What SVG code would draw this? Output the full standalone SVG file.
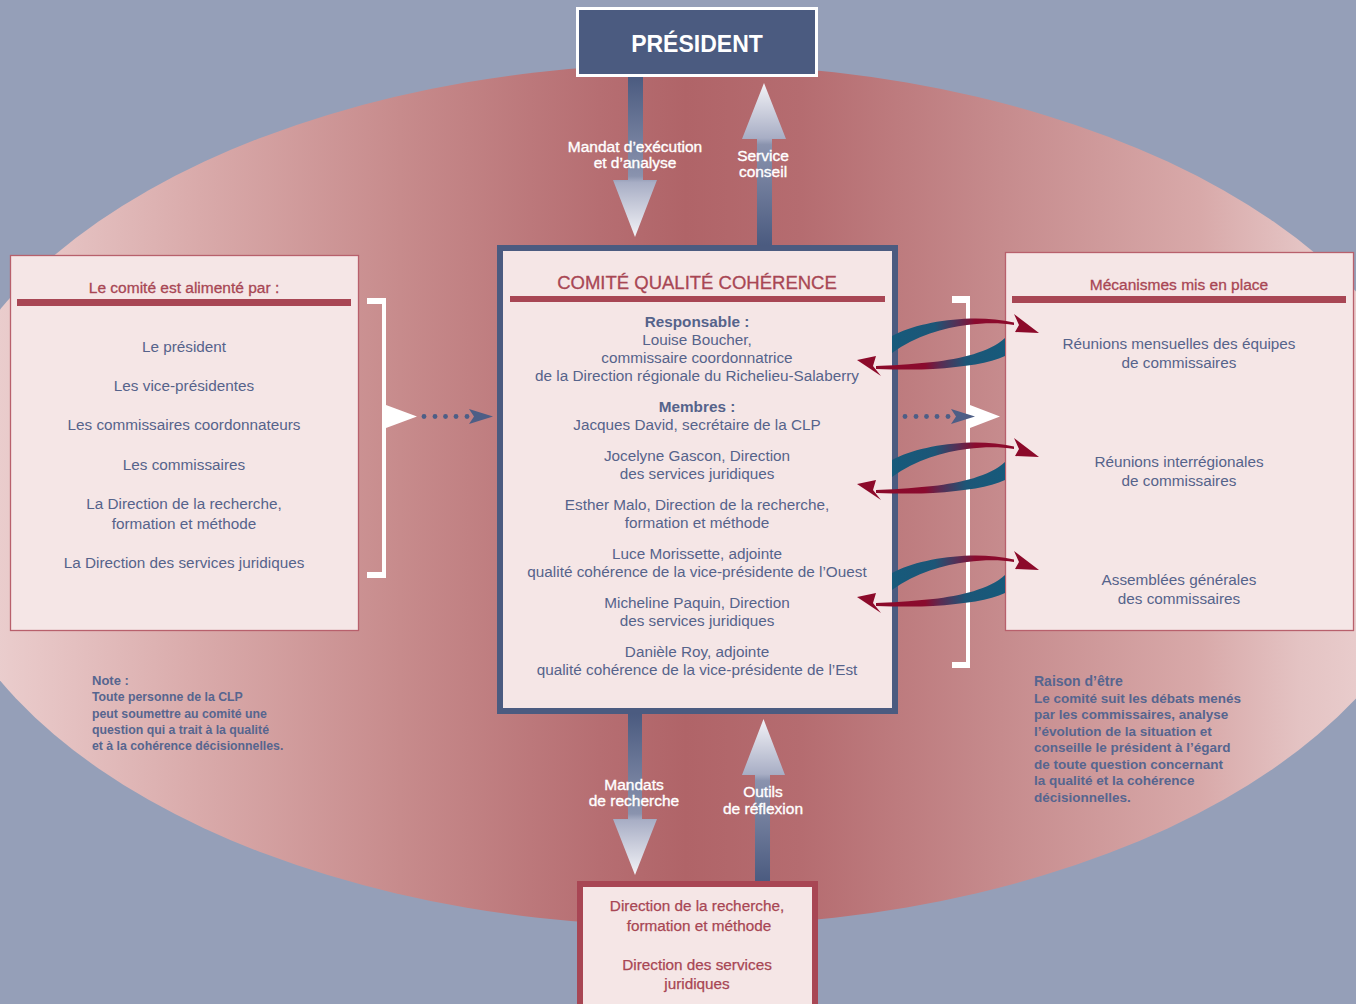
<svg xmlns="http://www.w3.org/2000/svg" width="1356" height="1004" viewBox="0 0 1356 1004">
<defs>
<linearGradient id="gEll" gradientUnits="userSpaceOnUse" x1="-74" y1="0" x2="1446" y2="0">
<stop offset="0" stop-color="#efd9d9"/>
<stop offset="0.075" stop-color="#e7c6c6"/>
<stop offset="0.18" stop-color="#d9aaaa"/>
<stop offset="0.312" stop-color="#c78b8c"/>
<stop offset="0.443" stop-color="#b66e72"/>
<stop offset="0.5" stop-color="#b06468"/>
<stop offset="0.575" stop-color="#b56c70"/>
<stop offset="0.707" stop-color="#c68b8d"/>
<stop offset="0.838" stop-color="#d8a9a9"/>
<stop offset="0.904" stop-color="#e4c3c3"/>
<stop offset="1" stop-color="#efd9d9"/>
</linearGradient>
<linearGradient id="gDown" x1="0" y1="0" x2="0" y2="1">
<stop offset="0" stop-color="#4b5b80"/>
<stop offset="0.62" stop-color="#8a93ae"/>
<stop offset="0.66" stop-color="#a8aec5"/>
<stop offset="1" stop-color="#f3f3f7"/>
</linearGradient>
<linearGradient id="gUp" x1="0" y1="1" x2="0" y2="0">
<stop offset="0" stop-color="#4b5b80"/>
<stop offset="0.62" stop-color="#8a93ae"/>
<stop offset="0.66" stop-color="#a8aec5"/>
<stop offset="1" stop-color="#f3f3f7"/>
</linearGradient>
<linearGradient id="gArcR" gradientUnits="userSpaceOnUse" x1="892" y1="0" x2="1014" y2="0">
<stop offset="0" stop-color="#165a7b"/>
<stop offset="0.35" stop-color="#1c5677"/>
<stop offset="0.55" stop-color="#5b2b52"/>
<stop offset="0.68" stop-color="#8a0b2e"/>
<stop offset="1" stop-color="#8c0a2a"/>
</linearGradient>
<linearGradient id="gArcL" gradientUnits="userSpaceOnUse" x1="1005" y1="0" x2="876" y2="0">
<stop offset="0" stop-color="#165a7b"/>
<stop offset="0.3" stop-color="#1c5677"/>
<stop offset="0.5" stop-color="#5b2b52"/>
<stop offset="0.62" stop-color="#8a0b2e"/>
<stop offset="1" stop-color="#8c0a2a"/>
</linearGradient>
<g id="pair">
<path d="M892,336 C910,326 940,319.5 970,318.5 C985,318 1000,319.5 1014,322.5 L1014,325 C1000,322.5 985,322.5 967,325 C945,327.5 915,336 892,353 Z" fill="url(#gArcR)"/>
<polygon points="1039,333 1014,314 1019,325 1015,332" fill="#8c0a2a"/>
<path d="M1005,338 C990,352 960,359 933,362 C910,364.5 890,365.5 876,366 L876,369 C895,369.5 915,370 933,369 C965,367 990,363 1005,356 Z" fill="url(#gArcL)"/>
<polygon points="857,360 876,356 873,366 881,376" fill="#8c0a2a"/>
</g>
</defs>
<style>
.t{font-family:"Liberation Sans",Arial,sans-serif;text-anchor:middle}
.blue{fill:#55638b;font-size:15.3px}
.red{fill:#a84654;font-size:15.3px}
.ttl{fill:#a84654;font-size:15.5px;stroke:#a84654;stroke-width:0.3}
.wl{fill:#ffffff;font-size:15.5px;stroke:#ffffff;stroke-width:0.35}
.note{font-family:"Liberation Sans",Arial,sans-serif;fill:#56658f;font-weight:bold}
.box{fill:#f5e6e6}
.rule{fill:#a84654}
.wb{fill:#ffffff}
.dot{fill:#4d5e86}
</style>
<rect x="0" y="0" width="1356" height="1004" fill="#959fb8"/>
<ellipse cx="686" cy="495" rx="760" ry="431" fill="url(#gEll)"/>

<g id="president">
<rect x="577.5" y="8.5" width="239" height="67" fill="#4b5b80" stroke="#ffffff" stroke-width="3"/>
<text class="t" x="697" y="52" fill="#ffffff" font-size="23" font-weight="bold">PRÉSIDENT</text>
</g>

<g id="comite">
<rect x="500" y="248" width="395" height="463" class="box" stroke="#4b5b80" stroke-width="6"/>
<text class="t" x="697" y="289" fill="#a84654" font-size="18.5" stroke="#a84654" stroke-width="0.3">COMITÉ QUALITÉ COHÉRENCE</text>
<rect x="510" y="296" width="375" height="6" class="rule"/>
<text class="t blue" x="697" y="327" font-weight="bold">Responsable :</text>
<text class="t blue" x="697" y="345">Louise Boucher,</text>
<text class="t blue" x="697" y="363">commissaire coordonnatrice</text>
<text class="t blue" x="697" y="381">de la Direction régionale du Richelieu-Salaberry</text>
<text class="t blue" x="697" y="412" font-weight="bold">Membres :</text>
<text class="t blue" x="697" y="430">Jacques David, secrétaire de la CLP</text>
<text class="t blue" x="697" y="461">Jocelyne Gascon, Direction</text>
<text class="t blue" x="697" y="479">des services juridiques</text>
<text class="t blue" x="697" y="510">Esther Malo, Direction de la recherche,</text>
<text class="t blue" x="697" y="528">formation et méthode</text>
<text class="t blue" x="697" y="559">Luce Morissette, adjointe</text>
<text class="t blue" x="697" y="577">qualité cohérence de la vice-présidente de l’Ouest</text>
<text class="t blue" x="697" y="608">Micheline Paquin, Direction</text>
<text class="t blue" x="697" y="626">des services juridiques</text>
<text class="t blue" x="697" y="657">Danièle Roy, adjointe</text>
<text class="t blue" x="697" y="675">qualité cohérence de la vice-présidente de l’Est</text>
</g>

<g id="alimente">
<rect x="10.5" y="255.5" width="348" height="375" class="box" stroke="#b8606c" stroke-width="1.3"/>
<text class="t ttl" x="184" y="293">Le comité est alimenté par :</text>
<rect x="17" y="299" width="334" height="7" class="rule"/>
<text class="t blue" x="184" y="352">Le président</text>
<text class="t blue" x="184" y="391">Les vice-présidentes</text>
<text class="t blue" x="184" y="430">Les commissaires coordonnateurs</text>
<text class="t blue" x="184" y="470">Les commissaires</text>
<text class="t blue" x="184" y="509">La Direction de la recherche,</text>
<text class="t blue" x="184" y="529">formation et méthode</text>
<text class="t blue" x="184" y="568">La Direction des services juridiques</text>
</g>

<g id="mecanismes">
<rect x="1005.5" y="252.5" width="348" height="378" class="box" stroke="#b8606c" stroke-width="1.3"/>
<text class="t ttl" x="1179" y="290">Mécanismes mis en place</text>
<rect x="1012" y="296" width="334" height="7" class="rule"/>
<text class="t blue" x="1179" y="349">Réunions mensuelles des équipes</text>
<text class="t blue" x="1179" y="368">de commissaires</text>
<text class="t blue" x="1179" y="467">Réunions interrégionales</text>
<text class="t blue" x="1179" y="486">de commissaires</text>
<text class="t blue" x="1179" y="585">Assemblées générales</text>
<text class="t blue" x="1179" y="604">des commissaires</text>
</g>

<g id="directions">
<rect x="580" y="884" width="235" height="125" class="box" stroke="#a84654" stroke-width="6"/>
<text class="t red" x="697" y="911" stroke="#a84654" stroke-width="0.25">Direction de la recherche,</text>
<text class="t red" x="699" y="931" stroke="#a84654" stroke-width="0.25">formation et méthode</text>
<text class="t red" x="697" y="970" stroke="#a84654" stroke-width="0.25">Direction des services</text>
<text class="t red" x="697" y="989" stroke="#a84654" stroke-width="0.25">juridiques</text>
</g>

<g id="note">
<text class="note" x="92" y="685" font-size="13">Note :</text>
<text class="note" x="92" y="701" font-size="12.3">Toute personne de la CLP</text>
<text class="note" x="92" y="718" font-size="12.3">peut soumettre au comité une</text>
<text class="note" x="92" y="734" font-size="12.3">question qui a trait à la qualité</text>
<text class="note" x="92" y="750" font-size="12.3">et à la cohérence décisionnelles.</text>
</g>

<g id="raison">
<text class="note" x="1034" y="686" font-size="14">Raison d’être</text>
<text class="note" x="1034" y="703" font-size="13.5">Le comité suit les débats menés</text>
<text class="note" x="1034" y="719" font-size="13.5">par les commissaires, analyse</text>
<text class="note" x="1034" y="736" font-size="13.5">l’évolution de la situation et</text>
<text class="note" x="1034" y="752" font-size="13.5">conseille le président à l’égard</text>
<text class="note" x="1034" y="769" font-size="13.5">de toute question concernant</text>
<text class="note" x="1034" y="785" font-size="13.5">la qualité et la cohérence</text>
<text class="note" x="1034" y="802" font-size="13.5">décisionnelles.</text>
</g>

<g id="connectors">
<path d="M628,77 L643,77 L643,180 L657,180 L635,237 L613,180 L628,180 Z" fill="url(#gDown)"/>
<path d="M757,245 L772,245 L772,139 L786,139 L764,83 L742,139 L757,139 Z" fill="url(#gUp)"/>
<path d="M628,714 L642,714 L642,819 L657,819 L635,875 L613,819 L628,819 Z" fill="url(#gDown)"/>
<path d="M755,881 L770,881 L770,775 L785,775 L763.5,719 L742,775 L755,775 Z" fill="url(#gUp)"/>
<text class="t wl" x="635" y="152">Mandat d’exécution</text>
<text class="t wl" x="635" y="168">et d’analyse</text>
<text class="t wl" x="763" y="161">Service</text>
<text class="t wl" x="763" y="177">conseil</text>
<text class="t wl" x="634" y="790">Mandats</text>
<text class="t wl" x="634" y="806">de recherche</text>
<text class="t wl" x="763" y="797">Outils</text>
<text class="t wl" x="763" y="814">de réflexion</text>

<path class="wb" d="M367,298 L386,298 L386,405 L417,416.5 L386,428 L386,578 L367,578 L367,572 L382,572 L382,304 L367,304 Z"/>
<circle class="dot" cx="424" cy="416.5" r="2.4"/>
<circle class="dot" cx="435" cy="416.5" r="2.4"/>
<circle class="dot" cx="445.5" cy="416.5" r="2.4"/>
<circle class="dot" cx="456" cy="416.5" r="2.4"/>
<circle class="dot" cx="467" cy="416.5" r="2.4"/>
<polygon class="dot" points="469,409 493,416.5 469,424 474,416.5"/>

<path class="wb" d="M952,296 L970,296 L970,405 L1000,416.5 L970,428 L970,668 L952,668 L952,662 L966,662 L966,303 L952,303 Z"/>
<circle class="dot" cx="905" cy="416.5" r="2.4"/>
<circle class="dot" cx="916" cy="416.5" r="2.4"/>
<circle class="dot" cx="926.5" cy="416.5" r="2.4"/>
<circle class="dot" cx="937" cy="416.5" r="2.4"/>
<circle class="dot" cx="948" cy="416.5" r="2.4"/>
<polygon class="dot" points="951,409 975,416.5 951,424 956,416.5"/>

<use href="#pair"/>
<use href="#pair" transform="translate(0,124)"/>
<use href="#pair" transform="translate(0,237)"/>
</g>
</svg>
